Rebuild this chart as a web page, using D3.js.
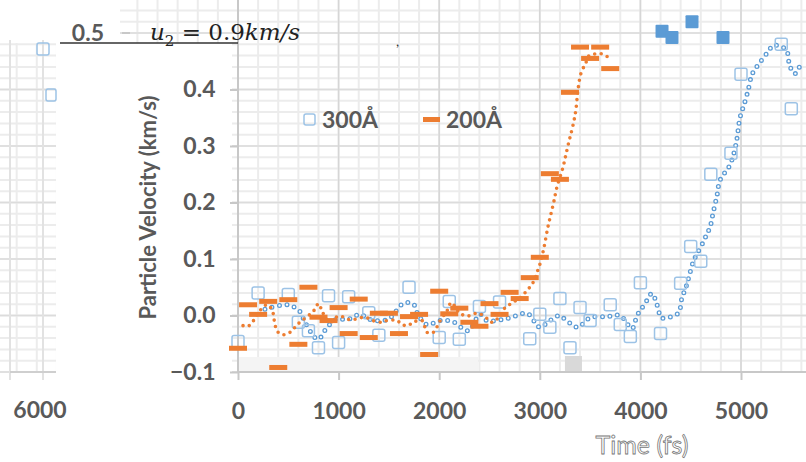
<!DOCTYPE html>
<html>
<head>
<meta charset="utf-8">
<script src="https://cdnjs.cloudflare.com/ajax/libs/d3/7.8.5/d3.min.js"></script>
<style>
  body { margin: 0; background: #fff; }
  svg { display: block; }
</style>
</head>
<body>
<div id="chart"></div>
<script>
// --- data ---
const xTicks = [0, 1000, 2000, 3000, 4000, 5000];
const yTicks = [-0.1, 0.0, 0.1, 0.2, 0.3, 0.4];

// 200 A markers (orange dashes)
const dashT = [0,100,200,300,400,500,600,700,800,900,1000,1100,1200,1300,1400,1500,1600,1700,1800,1900,
  2000,2100,2200,2300,2400,2500,2600,2700,2800,2900,3000,3100,3200,3300,3400,3500,3600,3700];
const dashV = [-0.058,0.019,0.002,0.025,-0.092,0.028,-0.051,0.050,-0.003,-0.009,0.014,-0.032,0.029,-0.039,0.004,0.004,-0.032,-0.002,0.002,-0.069,
  0.043,0.003,0.013,-0.012,-0.019,0.021,0.002,0.041,0.030,0.067,0.103,0.251,0.241,0.395,0.475,0.455,0.475,0.437];

// 200 A smoothed (orange dotted line)
const orangeT = [50,100,150,220,290,340,370,400,450,515,565,615,715,765,800,845,915,985,1035,1100,1155,1215,1280,1340,1430,1480,1580,1630,1690,1740,1830,1880,1940,2010,2080,2120,2200,2275,2385,2475,2525,2625,2655,2715,2775,2825,2865,2910,2950,2980,3000,3040,3080,3110,3140,3170,3230,3260,3290,3310,3340,3360,3380,3410,3460,3490,3550,3620,3680];
const orangeV = [-0.018,-0.019,-0.010,0.009,0.019,0.009,-0.018,-0.030,-0.034,-0.030,-0.021,-0.012,0.002,0.011,0.021,0.004,-0.012,-0.002,-0.002,-0.007,-0.007,-0.004,-0.004,-0.009,-0.012,-0.009,-0.009,-0.016,-0.018,-0.012,-0.009,-0.030,-0.030,-0.009,0.009,0.023,0.005,-0.001,0.004,-0.005,-0.012,0.004,0.014,0.021,0.028,0.034,0.043,0.052,0.064,0.080,0.090,0.119,0.156,0.179,0.202,0.227,0.262,0.285,0.308,0.322,0.345,0.366,0.400,0.429,0.448,0.460,0.463,0.463,0.457];

// 300 A markers (open squares)
const sqT = [0,200,500,600,700,800,900,1000,1100,1300,1400,1700,2000,2100,2200,2400,2600,2900,3000,3100,3200,3300,3400,3500,3700,3800,3900,4000,4200,4400,4500,4600,4700,4900,5000,5400,5500];
const sqV = [-0.046,0.040,0.037,-0.012,-0.027,-0.057,0.035,-0.048,0.033,0.005,-0.035,0.050,-0.039,0.025,-0.042,0.016,0.024,-0.041,0.002,-0.021,0.030,-0.057,0.014,-0.009,0.019,-0.016,-0.037,0.058,-0.032,0.057,0.122,0.096,0.250,0.287,0.427,0.480,0.366];

// 300 A smoothed (blue ringed dotted line)
const blueT = [268,497,616,666,795,885,974,1093,1213,1312,1491,1640,1740,1789,1879,2008,2137,2286,2406,2475,2684,2873,2952,3002,3101,3201,3250,3320,3380,3499,3668,3797,3917,3966,4006,4046,4115,4165,4205,4225,4374,4414,4453,4483,4523,4553,4622,4662,4692,4722,4761,4791,4891,4950,4990,5030,5070,5099,5119,5278,5318,5447,5477,5497,5537,5577,5616];
const blueV = [0.011,0.019,0.007,-0.012,-0.042,-0.021,-0.007,-0.007,0.002,-0.007,-0.007,0.021,0.021,0.002,-0.016,-0.009,-0.011,-0.027,0.002,-0.009,-0.005,0.004,-0.012,-0.021,-0.009,0.000,-0.007,-0.016,-0.021,-0.004,-0.002,0.000,-0.023,0.000,0.011,0.021,0.039,0.019,-0.004,-0.005,0.004,0.032,0.050,0.069,0.094,0.106,0.129,0.145,0.156,0.181,0.212,0.239,0.267,0.303,0.350,0.373,0.398,0.421,0.430,0.469,0.478,0.471,0.448,0.437,0.428,0.439,0.446];

// stray filled squares at the top
const topT = [4215, 4314, 4513, 4821];
const topV = [0.503, 0.492, 0.520, 0.492];

const W = 806, H = 462;
const orange = '#ED7D31', blue = '#5B9BD5', lightBlue = '#9DC3E6', txt = '#595959';
const font = 'Lato, "Open Sans", sans-serif';

const svg = d3.select('#chart').append('svg')
    .attr('width', W).attr('height', H)
    .style('font-family', font);

const x = d3.scaleLinear().domain([0, 5000]).range([238, 741]);
const y = d3.scaleLinear().domain([-0.1, 0.5]).range([372, 33]);

// --- grid ---
const grid = svg.append('g').attr('class', 'grid');
const minorY = d3.range(-0.1, 0.57, 0.02);
const minorX = d3.range(-2400, 5800, 200);

grid.selectAll('line.hmin').data(minorY).enter().append('line')
    .attr('x1', 0).attr('x2', W)
    .attr('y1', d => y(d)).attr('y2', d => y(d))
    .style('stroke', '#ececec').attr('stroke-width', 2);
grid.selectAll('line.vmin').data(minorX).enter().append('line')
    .attr('x1', d => x(d)).attr('x2', d => x(d))
    .attr('y1', 0).attr('y2', y(-0.1))
    .style('stroke', '#ececec').attr('stroke-width', 2);
grid.selectAll('line.hmaj').data(d3.range(-0.1, 0.56, 0.1)).enter().append('line')
    .attr('x1', 0).attr('x2', W)
    .attr('y1', d => y(d)).attr('y2', d => y(d))
    .style('stroke', '#dcdcdc').attr('stroke-width', 1.5);
grid.selectAll('line.vmaj').data(xTicks).enter().append('line')
    .attr('x1', d => x(d)).attr('x2', d => x(d))
    .attr('y1', 0).attr('y2', y(-0.1))
    .style('stroke', '#d6d6d6').attr('stroke-width', 1.5);

// white block where the axis title sits, and the ghost panel on the left
svg.append('rect').attr('x', 56).attr('y', 43).attr('width', 176).attr('height', H - 43).style('fill', '#fff');
svg.append('rect').attr('x', 0).attr('y', 0).attr('width', 120).attr('height', 43).style('fill', '#fff');
svg.append('rect').attr('x', 0).attr('y', 380).attr('width', W).attr('height', H - 380).style('fill', '#fff');
svg.append('rect').attr('x', 238).attr('y', 357).attr('width', 240).attr('height', 15).style('fill', '#f4f4f4');
svg.append('rect').attr('x', x(3250)).attr('y', 356).attr('width', 17).attr('height', 16).style('fill', '#d9d9d9');

// ghost left panel: a few gridlines, tick and "6000"
const ghost = svg.append('g');
ghost.selectAll('line').data([10, 43]).enter().append('line')
    .attr('x1', d => d).attr('x2', d => d).attr('y1', 40).attr('y2', 380)
    .style('stroke', '#e2e2e2').attr('stroke-width', 2);
ghost.append('line').attr('x1', 10).attr('x2', 56).attr('y1', y(-0.1)).attr('y2', y(-0.1))
    .style('stroke', '#cfcfcf').attr('stroke-width', 2);
ghost.append('text').attr('x', 40).attr('y', 418).attr('text-anchor', 'middle')
    .style('font-size', '23px').style('font-weight', 700).style('fill', txt).text('6000');
ghost.append('rect').attr('x', 37).attr('y', 43).attr('width', 12).attr('height', 12)
    .attr('rx', 2).style('fill', 'none').style('stroke', lightBlue).attr('stroke-width', 1.5);
ghost.append('rect').attr('x', 46).attr('y', 89).attr('width', 10).attr('height', 12)
    .attr('rx', 2).style('fill', 'none').style('stroke', lightBlue).attr('stroke-width', 1.5);

// --- axes ---
const xAxis = d3.axisBottom(x).tickValues(xTicks).tickSize(8).tickFormat(d3.format('d'));
const gx = svg.append('g').attr('transform', `translate(0,${y(-0.1)})`).call(xAxis);
gx.select('.domain').attr('d', `M${x(0)},0H${W}`).style('stroke', '#c8c8c8').attr('stroke-width', 2);
gx.selectAll('.tick line').style('stroke', '#c8c8c8').attr('stroke-width', 2);
gx.selectAll('.tick text').attr('dy', '1.55em')
    .style('font-size', '23px').style('font-weight', 700).style('font-family', font).style('fill', txt);

const yAxis = d3.axisLeft(y).tickValues(yTicks).tickSize(8).tickFormat(d3.format('.1f'));
const gy = svg.append('g').attr('transform', `translate(${x(0)},0)`).call(yAxis);
gy.select('.domain').attr('d', `M0,${y(-0.1)}V0`).style('stroke', '#c8c8c8').attr('stroke-width', 2);
gy.selectAll('.tick line').style('stroke', '#c8c8c8').attr('stroke-width', 2);
gy.selectAll('.tick text').attr('dx', '-0.5em')
    .style('font-size', '23px').style('font-weight', 700).style('font-family', font).style('fill', txt);

// "0.5" label of the top tick, shifted left with the title
svg.append('text').attr('x', 104).attr('y', y(0.5) + 8).attr('text-anchor', 'end')
    .style('font-size', '23px').style('font-weight', 700).style('fill', txt).text('0.5');
svg.append('line').attr('x1', 122).attr('x2', 130).attr('y1', y(0.5)).attr('y2', y(0.5))
    .style('stroke', '#c8c8c8').attr('stroke-width', 2);
svg.append('line').attr('x1', 60).attr('x2', 238).attr('y1', 43).attr('y2', 43)
    .style('stroke', '#333').attr('stroke-width', 1.5);

// title u2 = 0.9 km/s
const title = svg.append('text').attr('x', 150).attr('y', 40)
    .style('font-family', '"DejaVu Serif", "Liberation Serif", serif').style('font-size', '23px').style('fill', '#222');
title.append('tspan').style('font-style', 'italic').text('u');
title.append('tspan').attr('dy', 6).style('font-size', '15px').text('2');
title.append('tspan').attr('dy', -6).text(' = 0.9');
title.append('tspan').style('font-style', 'italic').text('km/s');
svg.append('text').attr('x', 396).attr('y', 46).style('font-size', '14px').style('fill', '#333').text(',');

// --- series ---
const blueData = blueT.map((t, i) => ({t, v: blueV[i]}));
const orangeData = orangeT.map((t, i) => ({t, v: orangeV[i]}));
const line = d3.line().x(d => x(d.t)).y(d => y(d.v)).curve(d3.curveCatmullRom);

// blue ring-dotted line
svg.append('path').datum(blueData).attr('d', line)
    .style('fill', 'none').style('stroke', blue).attr('stroke-width', 5)
    .attr('stroke-linecap', 'round').attr('stroke-dasharray', '0 7.5');
svg.append('path').datum(blueData).attr('d', line)
    .style('fill', 'none').style('stroke', '#fff').attr('stroke-width', 2.4)
    .attr('stroke-linecap', 'round').attr('stroke-dasharray', '0 7.5');

// open squares (300 A)
svg.append('g').selectAll('rect').data(sqT).enter().append('rect')
    .attr('x', d => x(d) - 6).attr('y', (d, i) => y(sqV[i]) - 6)
    .attr('width', 12).attr('height', 12).attr('rx', 2)
    .style('fill', 'none').style('stroke', lightBlue).attr('stroke-width', 1.5);

// orange dotted line
svg.append('path').datum(orangeData).attr('d', line)
    .style('fill', 'none').style('stroke', orange).attr('stroke-width', 3.6)
    .attr('stroke-linecap', 'round').attr('stroke-dasharray', '0 6.5');

// orange dashes (200 A)
svg.append('g').selectAll('rect').data(dashT).enter().append('rect')
    .attr('x', d => x(d) - 9).attr('y', (d, i) => y(dashV[i]) - 2.5)
    .attr('width', 18).attr('height', 5)
    .style('fill', orange);

// filled squares at the top
svg.append('g').selectAll('rect').data(topT).enter().append('rect')
    .attr('x', d => x(d) - 6.5).attr('y', (d, i) => y(topV[i]) - 6.5)
    .attr('width', 13).attr('height', 13).attr('rx', 1)
    .style('fill', blue);

// --- legend ---
const lg = svg.append('g').style('font-size', '23px').style('font-weight', 700).style('fill', txt);
lg.append('rect').attr('x', 304).attr('y', 114).attr('width', 11).attr('height', 11).attr('rx', 2)
    .style('fill', 'none').style('stroke', lightBlue).attr('stroke-width', 1.5);
lg.append('text').attr('x', 322).attr('y', 128).text('300Å');
lg.append('rect').attr('x', 423).attr('y', 117).attr('width', 17).attr('height', 5).style('fill', orange);
lg.append('text').attr('x', 446).attr('y', 128).text('200Å');

// --- axis titles ---
svg.append('text')
    .attr('transform', `translate(156,${(95 + 320) / 2}) rotate(-90)`)
    .attr('text-anchor', 'middle')
    .style('font-size', '22px').style('font-weight', 700).style('fill', txt)
    .text('Particle Velocity (km/s)');
svg.append('text').attr('x', 642).attr('y', 454).attr('text-anchor', 'middle')
    .style('font-size', '25px').style('fill', '#fff').style('stroke', '#777').attr('stroke-width', 0.8)
    .text('Time (fs)');
</script>
</body>
</html>
